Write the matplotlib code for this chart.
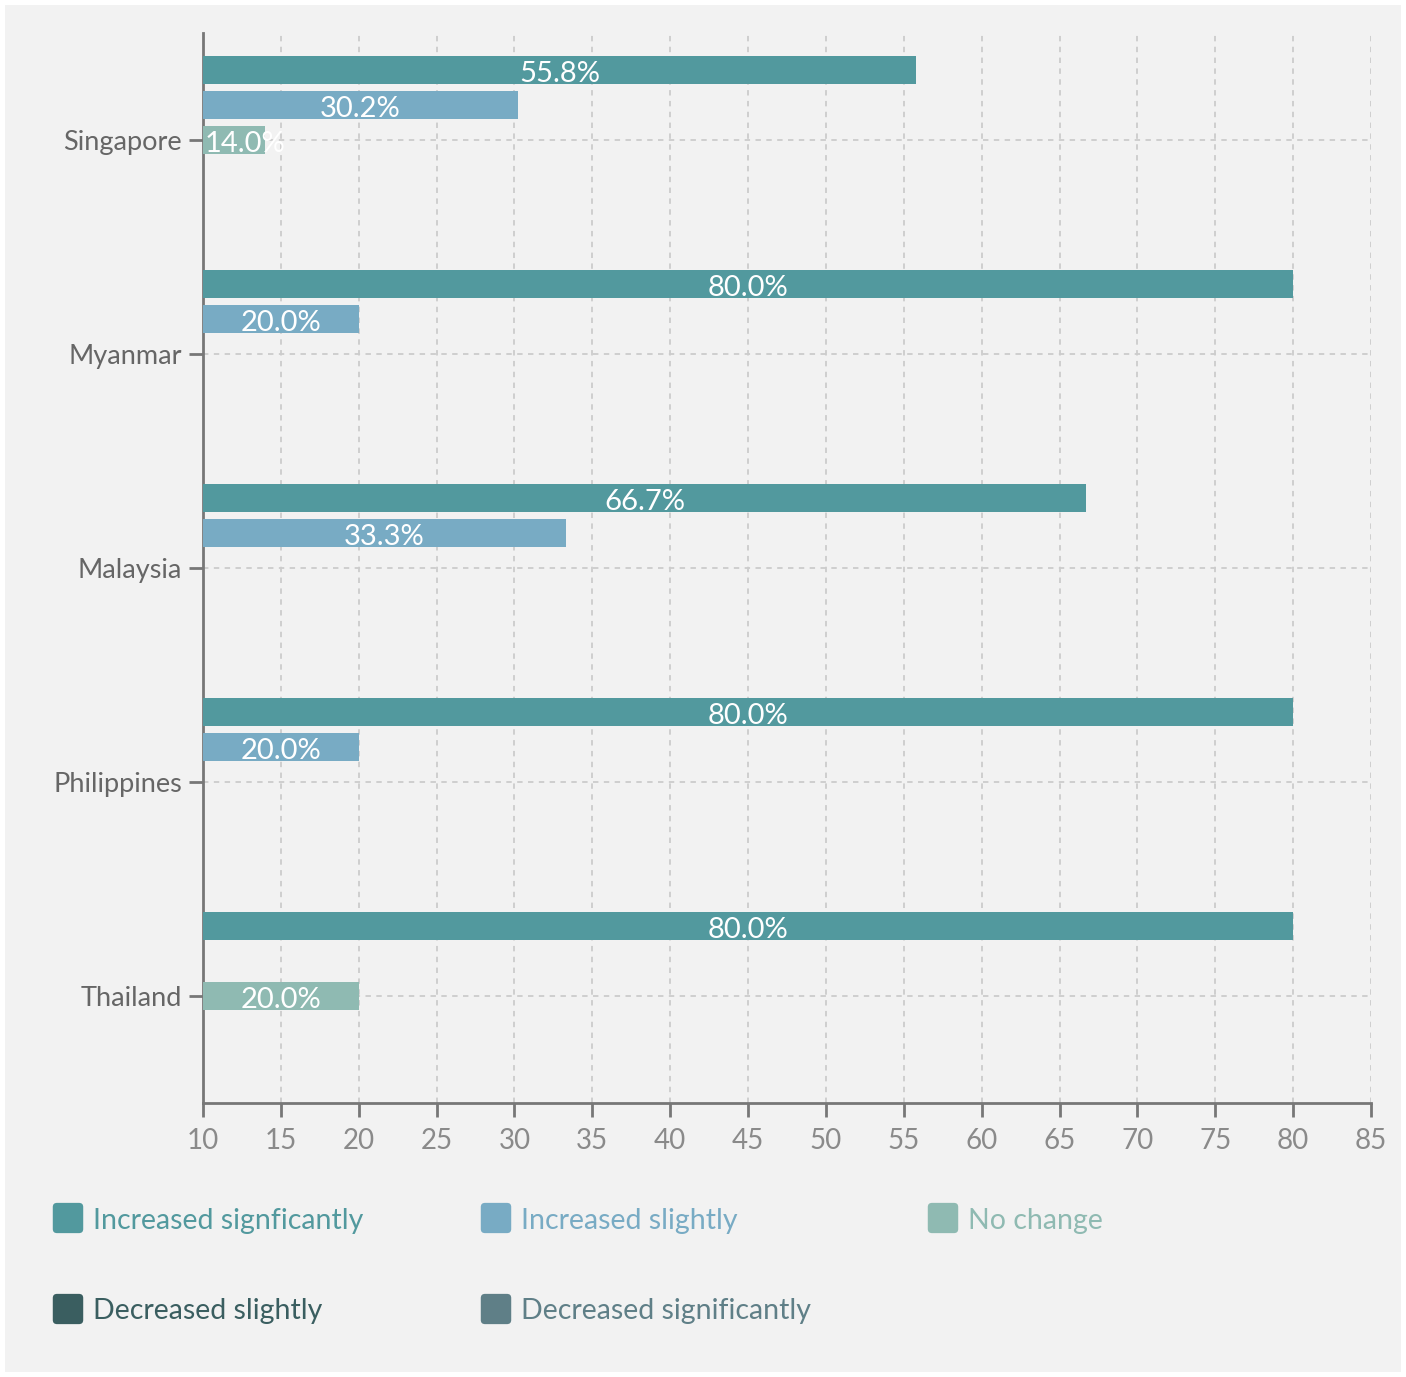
import numpy as np
import matplotlib
matplotlib.use('Agg')
from matplotlib import pyplot as plt
from matplotlib.patches import Rectangle, FancyBboxPatch

plt.rcParams['font.family'] = ['Lato', 'DejaVu Sans']

countries = ['Singapore', 'Myanmar', 'Malaysia', 'Philippines', 'Thailand']
series = ['Increased signficantly', 'Increased slightly', 'No change',
          'Decreased slightly', 'Decreased significantly']
colors = ['#52999e', '#78abc4', '#8fbab2', '#3a5e60', '#5f7f87']

inc_sig = [55.8, 80.0, 66.7, 80.0, 80.0]
inc_slight = [30.2, 20.0, 33.3, 20.0, 0.0]
no_change = [14.0, 0.0, 0.0, 0.0, 20.0]
dec_slight = [0.0, 0.0, 0.0, 0.0, 0.0]
dec_sig = [0.0, 0.0, 0.0, 0.0, 0.0]
values = [inc_sig, inc_slight, no_change, dec_slight, dec_sig]

xticks = list(range(10, 90, 5))
xmin, xmax = 10, 85

W, H = 1406, 1377
fig = plt.figure(figsize=(W / 100, H / 100), dpi=100, facecolor='white')
fig.patches.append(Rectangle((5 / W, 5 / H), (W - 10) / W, (H - 10) / H,
                             transform=fig.transFigure, facecolor='#f2f2f2',
                             edgecolor='none', zorder=-10))

ax = fig.add_axes([203 / W, 1 - 1103 / H, (1371 - 203) / W, (1103 - 33) / H])
ax.set_facecolor('none')

y = np.arange(len(countries))
slot = 35 / 214
bar_h = 28 / 214
half_label = 2.5  # approx half width of a value label, in x units
for i, (vals, c) in enumerate(zip(values, colors)):
    pos = y + (i - 2) * slot
    ax.barh(pos, vals, height=bar_h, color=c, zorder=3)
    for p, v in zip(pos, vals):
        if v > 0:
            cx = (xmin + v) / 2
            # keep short labels inside the plot area
            if cx - half_label < xmin:
                tx, ha = xmin + 0.1, 'left'
            else:
                tx, ha = cx, 'center'
            ax.text(tx, p + 0.005, f'{v:.1f}%', color='white',
                    fontsize=21, ha=ha, va='center_baseline', zorder=4)

ax.set_xlim(xmin, xmax)
ax.set_ylim(len(countries) - 0.5, -0.5)
ax.set_xticks(xticks)
ax.set_yticks(y)
ax.set_yticklabels(countries)

ax.grid(True, color='#cccccc', linestyle=(0, (3, 3)), linewidth=1.3, zorder=0)
ax.set_axisbelow(True)

for s in ['top', 'right']:
    ax.spines[s].set_visible(False)
for s in ['left', 'bottom']:
    ax.spines[s].set_color('#777777')
    ax.spines[s].set_linewidth(2)

ax.tick_params(axis='x', colors='#777777', labelcolor='#8a8a8a', labelsize=20,
               length=10, width=2, pad=8)
ax.tick_params(axis='y', colors='#777777', labelcolor='#666666', labelsize=19.5,
               length=10, width=2, pad=5)

# legend laid out by hand in pixel coordinates
legend_pos = [(54, 1218), (482, 1218), (929, 1218), (54, 1309), (482, 1309)]
sw = 28
for (px, py), name, c in zip(legend_pos, series, colors):
    fig.patches.append(FancyBboxPatch(
        ((px + 3) / W, 1 - (py + sw / 2 - 3) / H), (sw - 6) / W, (sw - 6) / H,
        boxstyle='round,pad=0.003,rounding_size=0.003',
        transform=fig.transFigure, facecolor=c, edgecolor='none'))
    fig.text((px + sw + 11) / W, 1 - py / H, name, color=c, fontsize=20.5,
             ha='left', va='center_baseline')

fig.savefig('out.png', dpi=100, facecolor='white')
